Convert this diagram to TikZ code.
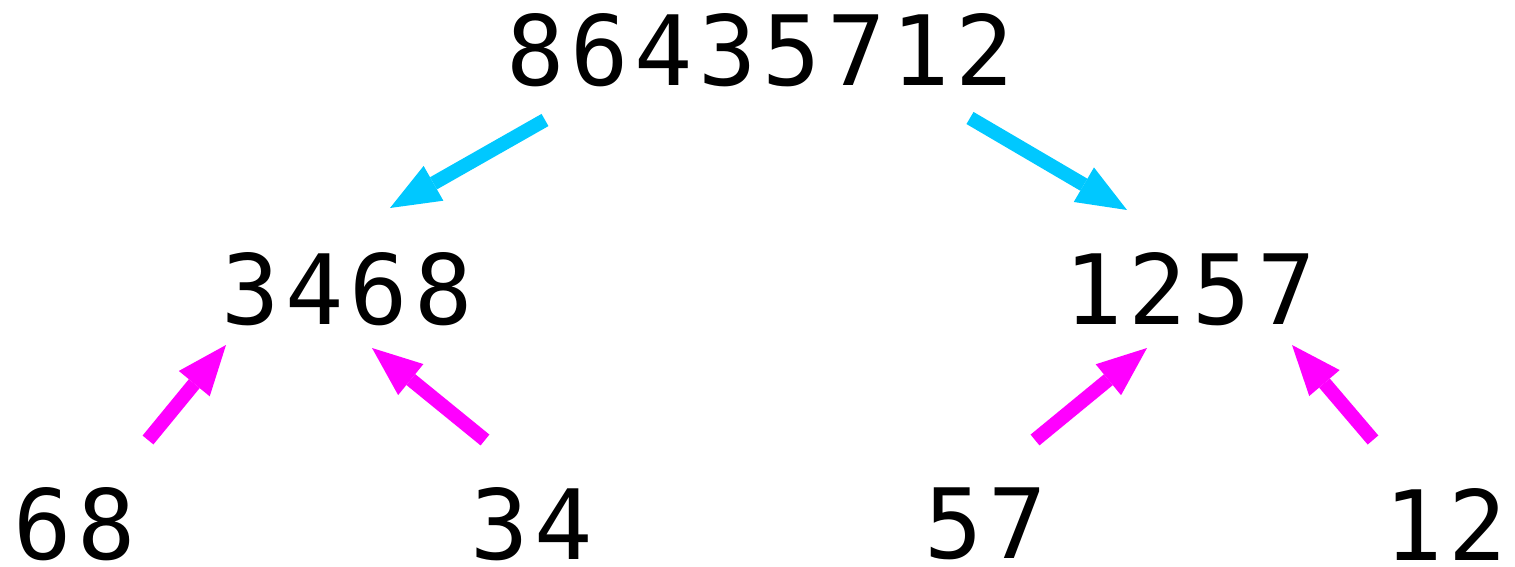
\documentclass[tikz,border=0pt]{standalone}
\usepackage{fontspec}
\newfontfamily\numfont[LetterSpace=6]{DejaVu Sans Mono}
\usetikzlibrary{arrows.meta}
\definecolor{sky}{RGB}{0,200,255}
\definecolor{mag}{RGB}{255,0,255}
\tikzset{
  num/.style={inner sep=0pt, font=\numfont\fontsize{97}{98}\selectfont},
  arr/.style={line width=14pt, -{Triangle[length=50pt,width=40pt,line width=0pt]}},
}
\begin{document}
\begin{tikzpicture}[x=1pt,y=-1pt]
\useasboundingbox (0,0) rectangle (1515,567);
\node[num] (top) at (760,50) {86435712};
\node[num] (l) at (347,289) {3468};
\node[num] (r) at (1190,289) {1257};
\node[num] (ll) at (75,524) {68};
\node[num] (lr) at (532,524) {34};
\node[num] (rl) at (986,524) {57};
\node[num] (rr) at (1446,524) {12};
\coordinate (b1s) at (545,120); \coordinate (b1e) at (390,208);
\coordinate (b2s) at (970,118); \coordinate (b2e) at (1127,210);
\coordinate (m1s) at (148,440); \coordinate (m1e) at (226,345);
\coordinate (m2s) at (485,440); \coordinate (m2e) at (372,348);
\coordinate (m3s) at (1035,440); \coordinate (m3e) at (1147,348);
\coordinate (m4s) at (1373,440); \coordinate (m4e) at (1292,345);
\draw[arr,sky] (b1s) -- (b1e);
\draw[arr,sky] (b2s) -- (b2e);
\draw[arr,mag] (m1s) -- (m1e);
\draw[arr,mag] (m2s) -- (m2e);
\draw[arr,mag] (m3s) -- (m3e);
\draw[arr,mag] (m4s) -- (m4e);
\end{tikzpicture}
\end{document}
